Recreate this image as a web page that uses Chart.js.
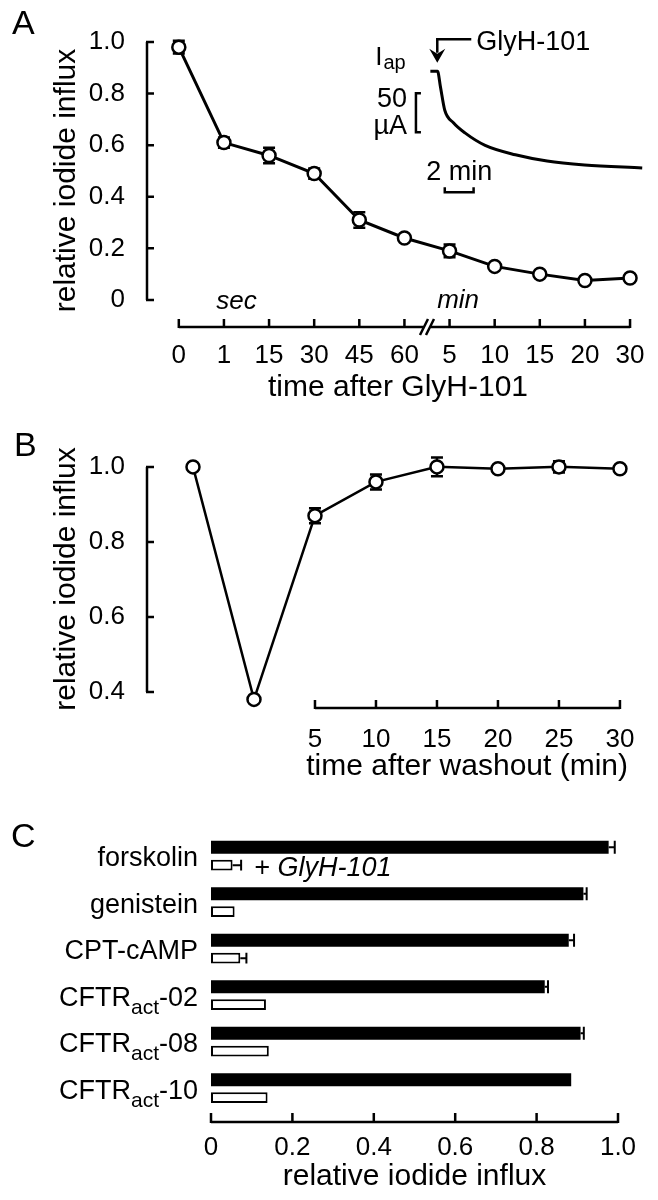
<!DOCTYPE html>
<html>
<head>
<meta charset="utf-8">
<script src="https://cdn.jsdelivr.net/npm/chart.js@4.4.1/dist/chart.umd.min.js"></script>
<style>
  html, body { margin: 0; padding: 0; background: #fff; }
  #fig { position: relative; width: 658px; height: 1200px; overflow: hidden; }
  canvas { position: absolute; left: 0; }
  .panel { position: absolute; font: 34px "Liberation Sans", Arial, sans-serif; line-height: 34px; color: #000; }
</style>
</head>
<body>
<div id="fig">
  <canvas id="chartA" width="658" height="420" style="top:0px"></canvas>
  <canvas id="chartB" width="658" height="380" style="top:410px"></canvas>
  <canvas id="chartC" width="658" height="400" style="top:800px"></canvas>
  <div class="panel" style="left:12px;top:5px">A</div>
  <div class="panel" style="left:14px;top:427px">B</div>
  <div class="panel" style="left:11px;top:818px">C</div>
</div>
<script>
// ---- panel A: influx after GlyH-101 ----
const timeLabelsA = ['0', '1', '15', '30', '45', '60', '5', '10', '15', '20', '30'];
const influxA = [0.98, 0.61, 0.56, 0.49, 0.31, 0.24, 0.19, 0.13, 0.10, 0.075, 0.085];
const errA = [0.025, 0.02, 0.03, 0.02, 0.03, 0, 0.025, 0, 0, 0, 0];
const yTicksA = [0, 0.2, 0.4, 0.6, 0.8, 1.0];
const yTickLabelsA = ['0', '0.2', '0.4', '0.6', '0.8', '1.0'];
// inset: apical current trace (min, µA above final level)
const traceMin = [0, 0.5, 0.7, 1.0, 1.6, 2.4, 3.8, 5.9, 8.1, 10.7, 14.7];
const traceUA = [124, 124, 104, 74, 58, 45, 29, 17, 9, 4, 0];

// ---- panel B: washout ----
const washMin = [-5, 0, 5, 10, 15, 20, 25, 30];
const influxB = [1.0, 0.38, 0.87, 0.96, 1.0, 0.995, 1.0, 0.995];
const errB = [0, 0, 0.02, 0.02, 0.025, 0, 0.015, 0];
const xTicksB = [5, 10, 15, 20, 25, 30];
const yTicksB = [0.4, 0.6, 0.8, 1.0];
const yTickLabelsB = ['0.4', '0.6', '0.8', '1.0'];

// ---- panel C: agonists ± GlyH-101 ----
const agents = ['forskolin', 'genistein', 'CPT-cAMP', 'CFTR_act_-02', 'CFTR_act_-08', 'CFTR_act_-10'];
const influxAgonist = [0.977, 0.915, 0.879, 0.82, 0.908, 0.885];
const errAgonist = [0.015, 0.008, 0.013, 0.008, 0.008, 0];
const influxGlyH = [0.053, 0.058, 0.072, 0.135, 0.142, 0.139];
const errGlyH = [0.021, 0, 0.015, 0, 0, 0];
const xTicksC = [0, 0.2, 0.4, 0.6, 0.8, 1.0];
const xTickLabelsC = ['0', '0.2', '0.4', '0.6', '0.8', '1.0'];

const FONT = '"Liberation Sans", Arial, Helvetica, sans-serif';
Chart.defaults.font.family = FONT;
Chart.defaults.color = '#000';

const noLegend = { legend: { display: false }, tooltip: { enabled: false } };

function vErr(ctx, px, yTop, yBot, cap) {
  ctx.beginPath();
  ctx.moveTo(px, yTop); ctx.lineTo(px, yBot);
  ctx.moveTo(px - cap, yTop); ctx.lineTo(px + cap, yTop);
  ctx.moveTo(px - cap, yBot); ctx.lineTo(px + cap, yBot);
  ctx.stroke();
}

// ---------------- A ----------------
const decorA = {
  id: 'decorA',
  beforeDatasetsDraw(chart) {
    const { ctx } = chart, x = chart.scales.x, y = chart.scales.y;
    ctx.save();
    ctx.strokeStyle = '#000'; ctx.lineWidth = 2.5;
    influxA.forEach((v, i) => {
      if (!errA[i]) return;
      vErr(ctx, x.getPixelForValue(i), y.getPixelForValue(v + errA[i]), y.getPixelForValue(v - errA[i]), 6);
    });
    ctx.restore();
  },
  afterDraw(chart) {
    const { ctx, chartArea } = chart, x = chart.scales.x, y = chart.scales.y;
    ctx.save();
    ctx.strokeStyle = '#000'; ctx.fillStyle = '#000'; ctx.lineWidth = 2.5;
    // y axis, ticks pointing in
    const ax = chartArea.left;
    ctx.beginPath();
    ctx.moveTo(ax, y.getPixelForValue(1.0)); ctx.lineTo(ax, y.getPixelForValue(0));
    yTicksA.forEach(v => { const py = y.getPixelForValue(v); ctx.moveTo(ax - 1, py); ctx.lineTo(ax + 7, py); });
    ctx.stroke();
    // x axis with break between sec and min
    const ay = chartArea.bottom;
    const bx = x.getPixelForValue(5.5);
    ctx.beginPath();
    ctx.moveTo(x.getPixelForValue(0), ay); ctx.lineTo(bx - 3, ay);
    ctx.moveTo(bx + 3, ay); ctx.lineTo(x.getPixelForValue(timeLabelsA.length - 1), ay);
    timeLabelsA.forEach((_, i) => { const px = x.getPixelForValue(i); ctx.moveTo(px, ay + 1); ctx.lineTo(px, ay - 8); });
    [-3, 3].forEach(d => { ctx.moveTo(bx + d - 4, ay + 8); ctx.lineTo(bx + d + 4, ay - 8); });
    ctx.stroke();
    ctx.font = 'italic 26px ' + FONT; ctx.textAlign = 'center'; ctx.textBaseline = 'middle';
    ctx.fillText('sec', x.getPixelForValue(1.28), y.getPixelForValue(-0.008));
    ctx.fillText('min', x.getPixelForValue(6.19), y.getPixelForValue(-0.004));

    // inset annotations
    const tx = chart.scales.x2, ty = chart.scales.y2;
    const bxp = tx.getPixelForValue(-1), b1 = ty.getPixelForValue(96), b0 = ty.getPixelForValue(46);
    ctx.beginPath();
    ctx.moveTo(bxp + 5, b1); ctx.lineTo(bxp, b1); ctx.lineTo(bxp, b0); ctx.lineTo(bxp + 5, b0);
    ctx.stroke();
    ctx.font = '27px ' + FONT; ctx.textAlign = 'right';
    ctx.fillText('50', bxp - 9, b1 + 6);
    ctx.fillText('\u00b5A', bxp - 9, b0 - 6);

    const s0 = tx.getPixelForValue(1), s1 = tx.getPixelForValue(3), sy = ty.getPixelForValue(-31);
    ctx.beginPath();
    ctx.moveTo(s0, sy - 5); ctx.lineTo(s0, sy); ctx.lineTo(s1, sy); ctx.lineTo(s1, sy - 5);
    ctx.stroke();
    ctx.textAlign = 'center';
    ctx.fillText('2 min', (s0 + s1) / 2, sy - 20);

    const ar = tx.getPixelForValue(0.48), atop = ty.getPixelForValue(165), tip = ty.getPixelForValue(135);
    ctx.beginPath();
    ctx.moveTo(ar + 34, atop); ctx.lineTo(ar, atop); ctx.lineTo(ar, tip - 10);
    ctx.stroke();
    ctx.beginPath();
    ctx.moveTo(ar, tip); ctx.lineTo(ar - 8, tip - 14); ctx.lineTo(ar, tip - 9); ctx.lineTo(ar + 8, tip - 14);
    ctx.closePath(); ctx.fill();
    ctx.textAlign = 'left';
    ctx.fillText('GlyH-101', ar + 39, atop + 3);

    ctx.textBaseline = 'alphabetic';
    ctx.font = '26px ' + FONT;
    const ix = ar - 62;
    ctx.fillText('I', ix, atop + 26);
    const iw = ctx.measureText('I').width;
    ctx.font = '20px ' + FONT;
    ctx.fillText('ap', ix + iw + 1, atop + 30);
    ctx.restore();
  }
};

new Chart(document.getElementById('chartA'), {
  type: 'line',
  data: {
    datasets: [{
      data: influxA.map((v, i) => ({ x: i, y: v })),
      borderColor: '#000', borderWidth: 3,
      pointRadius: 6.5, pointBorderWidth: 2.5,
      pointBackgroundColor: '#fff', pointBorderColor: '#000',
      xAxisID: 'x', yAxisID: 'y', clip: false
    }, {
      data: traceMin.map((t, i) => ({ x: t, y: traceUA[i] })),
      borderColor: '#000', borderWidth: 3, pointRadius: 0,
      cubicInterpolationMode: 'monotone',
      xAxisID: 'x2', yAxisID: 'y2', clip: false
    }]
  },
  options: {
    responsive: false,
    animation: false,
    layout: { padding: { top: 34, right: 6 } },
    scales: {
      x: {
        type: 'linear', min: -0.705, max: 10.42,
        grid: { display: false }, border: { display: false },
        afterBuildTicks: s => { s.ticks = timeLabelsA.map((_, i) => ({ value: i })); },
        afterFit: s => { s.height = 93; },
        ticks: { padding: 5, autoSkip: false, maxRotation: 0, font: { size: 26 }, callback: (v, i) => timeLabelsA[i] },
        title: { display: true, text: 'time after GlyH-101', font: { size: 30 }, padding: { top: 0, bottom: 14 } }
      },
      y: {
        min: -0.105, max: 1.031,
        grid: { display: false }, border: { display: false },
        afterBuildTicks: s => { s.ticks = yTicksA.map(v => ({ value: v })); },
        afterFit: s => { s.width = 147; },
        ticks: { padding: 14, font: { size: 26 }, callback: (v, i) => yTickLabelsA[i] },
        title: { display: true, text: 'relative iodide influx', font: { size: 30 }, padding: { top: 49, bottom: 0 } }
      },
      x2: { type: 'linear', display: false, min: -19.66, max: 15.17 },
      y2: { type: 'linear', display: false, min: -203.8, max: 171.8 }
    },
    plugins: noLegend
  },
  plugins: [decorA]
});

// ---------------- B ----------------
const decorB = {
  id: 'decorB',
  beforeDatasetsDraw(chart) {
    const { ctx } = chart, x = chart.scales.x, y = chart.scales.y;
    ctx.save();
    ctx.strokeStyle = '#000'; ctx.lineWidth = 2.5;
    influxB.forEach((v, i) => {
      if (!errB[i]) return;
      vErr(ctx, x.getPixelForValue(washMin[i]), y.getPixelForValue(v + errB[i]), y.getPixelForValue(v - errB[i]), 6);
    });
    ctx.restore();
  },
  afterDraw(chart) {
    const { ctx, chartArea } = chart, x = chart.scales.x, y = chart.scales.y;
    ctx.save();
    ctx.strokeStyle = '#000'; ctx.lineWidth = 2.5;
    const ax = chartArea.left;
    ctx.beginPath();
    ctx.moveTo(ax, y.getPixelForValue(1.0)); ctx.lineTo(ax, y.getPixelForValue(0.4));
    yTicksB.forEach(v => { const py = y.getPixelForValue(v); ctx.moveTo(ax - 1, py); ctx.lineTo(ax + 7, py); });
    const ay = chartArea.bottom;
    ctx.moveTo(x.getPixelForValue(5), ay); ctx.lineTo(x.getPixelForValue(30), ay);
    xTicksB.forEach(v => { const px = x.getPixelForValue(v); ctx.moveTo(px, ay + 1); ctx.lineTo(px, ay - 8); });
    ctx.stroke();
    ctx.restore();
  }
};

new Chart(document.getElementById('chartB'), {
  type: 'line',
  data: {
    datasets: [{
      data: washMin.map((t, i) => ({ x: t, y: influxB[i] })),
      borderColor: '#000', borderWidth: 2.5,
      pointRadius: 6.5, pointBorderWidth: 2.5,
      pointBackgroundColor: '#fff', pointBorderColor: '#000',
      clip: false
    }]
  },
  options: {
    responsive: false,
    animation: false,
    layout: { padding: { top: 40, right: 30 } },
    scales: {
      x: {
        type: 'linear', min: -8.77, max: 30.66,
        grid: { display: false }, border: { display: false },
        afterBuildTicks: s => { s.ticks = xTicksB.map(v => ({ value: v })); },
        afterFit: s => { s.height = 82; },
        ticks: { padding: 8, autoSkip: false, maxRotation: 0, font: { size: 26 }, callback: v => String(v) },
        title: { display: true, text: 'time after washout (min)', align: 'end', font: { size: 30 }, padding: { top: 0, bottom: 5 } }
      },
      y: {
        min: 0.357, max: 1.045,
        grid: { display: false }, border: { display: false },
        afterBuildTicks: s => { s.ticks = yTicksB.map(v => ({ value: v })); },
        afterFit: s => { s.width = 147; },
        ticks: { padding: 14, font: { size: 26 }, callback: (v, i) => yTickLabelsB[i] },
        title: { display: true, text: 'relative iodide influx', font: { size: 30 }, padding: { top: 49, bottom: 0 } }
      }
    },
    plugins: noLegend
  },
  plugins: [decorB]
});

// ---------------- C ----------------
function drawSubLabel(ctx, text, xRight, yMid) {
  const parts = text.split('_');
  const fonts = parts.map((_, i) => (i % 2 ? '21px ' : '27px ') + FONT);
  let total = 0;
  const widths = parts.map((p, i) => { ctx.font = fonts[i]; const w = ctx.measureText(p).width; total += w; return w; });
  let px = xRight - total;
  const base = yMid + 10;
  parts.forEach((p, i) => {
    ctx.font = fonts[i];
    ctx.fillText(p, px, i % 2 ? base + 8 : base);
    px += widths[i];
  });
}

const decorC = {
  id: 'decorC',
  afterDraw(chart) {
    const { ctx, chartArea } = chart, x = chart.scales.x, y = chart.scales.y;
    ctx.save();
    ctx.fillStyle = '#000'; ctx.strokeStyle = '#000';
    ctx.textAlign = 'left'; ctx.textBaseline = 'alphabetic';
    agents.forEach((a, i) => drawSubLabel(ctx, a, chartArea.left - 13, y.getPixelForValue(i)));

    // error bars on bar ends
    ctx.lineWidth = 2;
    [[influxAgonist, errAgonist], [influxGlyH, errGlyH]].forEach(([vals, errs], d) => {
      const bars = chart.getDatasetMeta(d).data;
      vals.forEach((v, i) => {
        if (!errs[i]) return;
        const b = bars[i], h = b.height / 2;
        const x0 = x.getPixelForValue(v), x1 = x.getPixelForValue(v + errs[i]);
        ctx.beginPath();
        ctx.moveTo(x0, b.y); ctx.lineTo(x1, b.y);
        ctx.moveTo(x1, b.y - h); ctx.lineTo(x1, b.y + h);
        ctx.stroke();
      });
    });

    // x axis
    ctx.lineWidth = 2.5;
    const ay = chartArea.bottom + 10;
    ctx.beginPath();
    ctx.moveTo(x.getPixelForValue(0), ay); ctx.lineTo(x.getPixelForValue(1), ay);
    xTicksC.forEach(v => { const px = x.getPixelForValue(v); ctx.moveTo(px, ay + 1); ctx.lineTo(px, ay - 9); });
    ctx.stroke();

    // "+ GlyH-101" label next to the first open bar
    const b0 = chart.getDatasetMeta(1).data[0];
    ctx.font = 'italic 27px ' + FONT; ctx.textBaseline = 'middle';
    ctx.fillText('+ GlyH-101', x.getPixelForValue(influxGlyH[0] + errGlyH[0]) + 13, b0.y + 3);
    ctx.restore();
  }
};

new Chart(document.getElementById('chartC'), {
  type: 'bar',
  data: {
    labels: agents.map(a => a.replace(/_/g, '')),
    datasets: [{
      data: influxAgonist,
      backgroundColor: '#000', borderWidth: 0,
      categoryPercentage: 0.77, barPercentage: 0.72
    }, {
      data: influxGlyH,
      backgroundColor: '#fff', borderColor: '#000', borderWidth: 2, borderSkipped: false,
      categoryPercentage: 0.77, barPercentage: 0.6
    }]
  },
  options: {
    indexAxis: 'y',
    responsive: false,
    animation: false,
    layout: { padding: { top: 33, right: 40 } },
    scales: {
      x: {
        min: 0, max: 1,
        grid: { display: false }, border: { display: false },
        afterBuildTicks: s => { s.ticks = xTicksC.map(v => ({ value: v })); },
        afterFit: s => { s.height = 88; },
        ticks: { padding: 12, autoSkip: false, maxRotation: 0, font: { size: 26 }, callback: (v, i) => xTickLabelsC[i] },
        title: { display: true, text: 'relative iodide influx', font: { size: 30 }, padding: { top: 0, bottom: 5 } }
      },
      y: {
        grid: { display: false }, border: { display: false },
        ticks: { display: false },
        afterFit: s => { s.width = 211; }
      }
    },
    plugins: noLegend
  },
  plugins: [decorC]
});
</script>
</body>
</html>
